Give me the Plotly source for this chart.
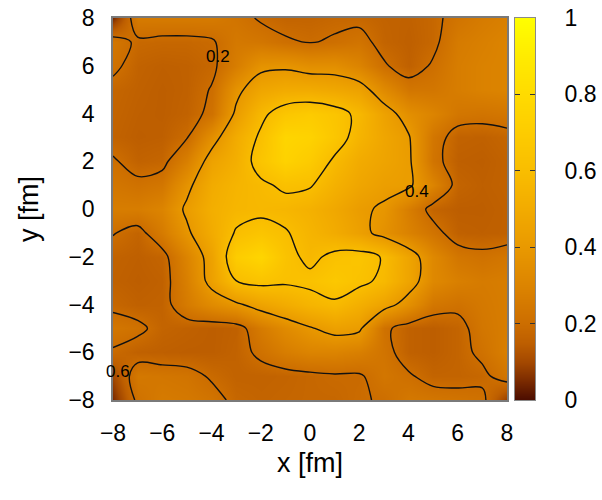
import plotly.graph_objects as go

# grid coordinates (fm)
x_vals = [-8, -7, -6, -5, -4, -3, -2, -1, 0, 1, 2, 3, 4, 5, 6, 7, 8]
y_top_to_bottom = [8, 7, 6, 5, 4, 3, 2, 1, 0, -1, -2, -3, -4, -5, -6, -7, -8]

# values, rows from y=8 (top) to y=-8 (bottom)
row_p8 = [0.05, 0.26, 0.26, 0.26, 0.26, 0.23, 0.19, 0.17, 0.17, 0.18, 0.18, 0.165, 0.16, 0.18, 0.23, 0.26, 0.28]
row_p7 = [0.24, 0.185, 0.18, 0.18, 0.19, 0.25, 0.24, 0.21, 0.195, 0.21, 0.23, 0.17, 0.155, 0.18, 0.26, 0.28, 0.30]
row_p6 = [0.22, 0.165, 0.155, 0.16, 0.18, 0.27, 0.37, 0.38, 0.35, 0.35, 0.30, 0.21, 0.16, 0.21, 0.27, 0.29, 0.30]
row_p5 = [0.175, 0.16, 0.15, 0.16, 0.205, 0.37, 0.47, 0.50, 0.50, 0.48, 0.45, 0.33, 0.24, 0.24, 0.27, 0.29, 0.30]
row_p4 = [0.17, 0.155, 0.15, 0.165, 0.22, 0.42, 0.57, 0.66, 0.69, 0.65, 0.57, 0.45, 0.35, 0.30, 0.24, 0.23, 0.24]
row_p3 = [0.165, 0.15, 0.155, 0.195, 0.35, 0.50, 0.62, 0.76, 0.74, 0.66, 0.55, 0.47, 0.41, 0.24, 0.165, 0.16, 0.175]
row_p2 = [0.21, 0.165, 0.175, 0.28, 0.45, 0.52, 0.65, 0.74, 0.69, 0.58, 0.50, 0.46, 0.42, 0.23, 0.155, 0.15, 0.165]
row_p1 = [0.24, 0.22, 0.24, 0.37, 0.50, 0.55, 0.58, 0.62, 0.61, 0.53, 0.47, 0.43, 0.42, 0.30, 0.17, 0.155, 0.165]
row_0 = [0.27, 0.27, 0.30, 0.42, 0.52, 0.56, 0.57, 0.56, 0.53, 0.48, 0.42, 0.385, 0.27, 0.17, 0.15, 0.15, 0.16]
row_m1 = [0.205, 0.17, 0.26, 0.38, 0.50, 0.61, 0.65, 0.61, 0.55, 0.50, 0.44, 0.36, 0.29, 0.23, 0.16, 0.155, 0.16]
row_m2 = [0.165, 0.155, 0.17, 0.30, 0.45, 0.70, 0.76, 0.64, 0.57, 0.63, 0.65, 0.59, 0.46, 0.32, 0.24, 0.22, 0.24]
row_m3 = [0.16, 0.15, 0.16, 0.28, 0.44, 0.60, 0.64, 0.62, 0.63, 0.67, 0.63, 0.575, 0.46, 0.32, 0.28, 0.26, 0.27]
row_m4 = [0.18, 0.16, 0.165, 0.26, 0.33, 0.38, 0.45, 0.50, 0.55, 0.58, 0.52, 0.45, 0.35, 0.24, 0.22, 0.25, 0.27]
row_m5 = [0.24, 0.22, 0.17, 0.16, 0.15, 0.16, 0.26, 0.33, 0.39, 0.44, 0.42, 0.22, 0.16, 0.15, 0.17, 0.24, 0.27]
row_m6 = [0.19, 0.16, 0.155, 0.15, 0.15, 0.165, 0.22, 0.27, 0.30, 0.30, 0.28, 0.23, 0.16, 0.15, 0.17, 0.22, 0.28]
row_m7 = [0.10, 0.25, 0.24, 0.23, 0.19, 0.165, 0.165, 0.17, 0.18, 0.19, 0.19, 0.24, 0.21, 0.17, 0.17, 0.18, 0.24]
row_m8 = [0.05, 0.22, 0.26, 0.25, 0.23, 0.18, 0.17, 0.175, 0.18, 0.18, 0.195, 0.205, 0.25, 0.24, 0.23, 0.22, 0.08]

rows_top_to_bottom = [row_p8, row_p7, row_p6, row_p5, row_p4, row_p3, row_p2, row_p1, row_0,
                      row_m1, row_m2, row_m3, row_m4, row_m5, row_m6, row_m7, row_m8]

# bottom-to-top ordering for plotly
y_vals = y_top_to_bottom[::-1]
z_vals = rows_top_to_bottom[::-1]

contour_levels = [0.2, 0.4, 0.6]
colorbar_ticks = [0, 0.2, 0.4, 0.6, 0.8, 1]
colorbar_ticktext = ["0", "0.2", "0.4", "0.6", "0.8", "1"]
axis_ticks = [-8, -6, -4, -2, 0, 2, 4, 6, 8]

contour_labels = ["0.2", "0.4", "0.6"]
contour_label_x = [-3.73, 4.33, -7.8]
contour_label_y = [6.39, 0.73, -6.8]

colorscale = [
    [0.00, "#4a0c00"],
    [0.05, "#7a2a00"],
    [0.10, "#a34800"],
    [0.15, "#bd5e00"],
    [0.20, "#cc6d00"],
    [0.30, "#dc8400"],
    [0.40, "#e99900"],
    [0.50, "#f2ab00"],
    [0.60, "#f9bd00"],
    [0.70, "#fdcc00"],
    [0.80, "#ffdb00"],
    [0.90, "#ffeb00"],
    [1.00, "#ffff00"],
]

FONT = "Liberation Sans, Arial, Helvetica, sans-serif"

# layout geometry (pixels)
W, H = 602, 500
PLOT_L, PLOT_R, PLOT_T, PLOT_B = 113, 507, 18, 400
CB_L, CB_R = 515, 535
area_w = CB_R - PLOT_L

fig = go.Figure()

fig.add_trace(go.Heatmap(
    x=x_vals, y=y_vals, z=z_vals,
    zsmooth="best", zmin=0, zmax=1,
    colorscale=colorscale, showscale=False,
    hoverinfo="skip", xaxis="x", yaxis="y",
))

fig.add_trace(go.Contour(
    x=x_vals, y=y_vals, z=z_vals,
    contours=dict(start=contour_levels[0], end=contour_levels[-1],
                  size=contour_levels[1] - contour_levels[0], coloring="none"),
    line=dict(color="#111111", width=1.4, smoothing=1.0),
    showscale=False, hoverinfo="skip", xaxis="x", yaxis="y",
))

# colour bar drawn as its own small heatmap on a second pair of axes
fig.add_trace(go.Heatmap(
    x=[0], y=colorbar_ticks, z=[[v] for v in colorbar_ticks],
    zsmooth="best", zmin=0, zmax=1,
    colorscale=colorscale, showscale=False,
    hoverinfo="skip", xaxis="x2", yaxis="y2",
))

for txt, lx, ly in zip(contour_labels, contour_label_x, contour_label_y):
    fig.add_annotation(x=lx, y=ly, xref="x", yref="y", text=txt, showarrow=False,
                       font=dict(family=FONT, size=17, color="black"))

axis_common = dict(
    range=[-8, 8], tickmode="array", tickvals=axis_ticks,
    showgrid=False, zeroline=False, showline=True, linecolor="#7a7a7a",
    linewidth=1.5, mirror=True, ticks="",
    tickfont=dict(family=FONT, size=23, color="black"),
)

fig.update_layout(
    width=W, height=H,
    margin=dict(l=PLOT_L, r=W - CB_R, t=PLOT_T, b=H - PLOT_B, autoexpand=False),
    paper_bgcolor="white", plot_bgcolor="white",
    showlegend=False,
    xaxis=dict(**axis_common, domain=[0, (PLOT_R - PLOT_L) / area_w], anchor="y",
               ticklabelstandoff=12,
               title=dict(text="x [fm]", font=dict(family=FONT, size=27, color="black"), standoff=8)),
    yaxis=dict(**axis_common, domain=[0, 1], anchor="x",
               ticklabelstandoff=12,
               title=dict(text="y [fm]", font=dict(family=FONT, size=27, color="black"), standoff=22)),
    xaxis2=dict(domain=[(CB_L - PLOT_L) / area_w, 1], anchor="y2", range=[-0.5, 0.5],
                showticklabels=False, showgrid=False, zeroline=False, ticks="",
                showline=True, linecolor="#8a8a8a", linewidth=1, mirror=True, fixedrange=True),
    yaxis2=dict(domain=[0, 1], anchor="x2", side="right", range=[0, 1],
                tickmode="array", tickvals=colorbar_ticks, ticktext=colorbar_ticktext,
                showgrid=False, zeroline=False, showline=True, linecolor="#8a8a8a",
                linewidth=1, mirror="ticks", ticks="inside", ticklen=5,
                tickcolor="#333333", tickwidth=1, ticklabelstandoff=24,
                tickfont=dict(family=FONT, size=23, color="black"), fixedrange=True),
)

fig.write_html("out.html")
